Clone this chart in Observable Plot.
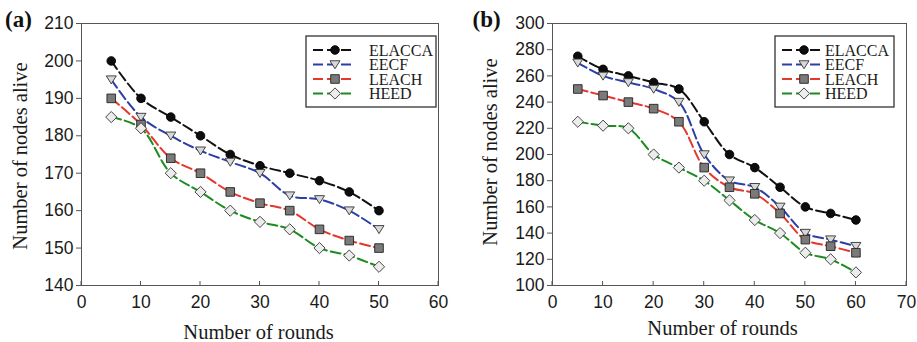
<!DOCTYPE html>
<html><head><meta charset="utf-8">
<script src="https://cdn.jsdelivr.net/npm/d3@7"></script>
<script src="https://cdn.jsdelivr.net/npm/@observablehq/plot@0.6"></script>
<style>
body{margin:0;background:#fff;}
#wrap{position:relative;width:917px;height:342px;overflow:hidden;background:#fff;}
.panel{position:absolute;top:0;}
</style></head><body><div id="wrap"></div>
<script>
// ---------- data ----------
const seriesNames = ["ELACCA", "EECF", "LEACH", "HEED"];

const roundsA = [5, 10, 15, 20, 25, 30, 35, 40, 45, 50];
const elaccaA = [200, 190, 185, 180, 175, 172, 170, 168, 165, 160];
const eecfA   = [195, 185, 180, 176, 173, 170, 164, 163, 160, 155];
const leachA  = [190, 183, 174, 170, 165, 162, 160, 155, 152, 150];
const heedA   = [185, 182, 170, 165, 160, 157, 155, 150, 148, 145];
const xTicksA = [0, 10, 20, 30, 40, 50, 60];
const yTicksA = [140, 150, 160, 170, 180, 190, 200, 210];

const roundsB = [5, 10, 15, 20, 25, 30, 35, 40, 45, 50, 55, 60];
const elaccaB = [275, 265, 260, 255, 250, 225, 200, 190, 175, 160, 155, 150];
const eecfB   = [270, 260, 255, 250, 240, 200, 180, 175, 160, 140, 135, 130];
const leachB  = [250, 245, 240, 235, 225, 190, 175, 170, 155, 135, 130, 125];
const heedB   = [225, 222, 220, 200, 190, 180, 165, 150, 140, 125, 120, 110];
const xTicksB = [0, 10, 20, 30, 40, 50, 60, 70];
const yTicksB = [100, 120, 140, 160, 180, 200, 220, 240, 260, 280, 300];

const xTitle = "Number of rounds";
const yTitle = "Number of nodes alive";

// ---------- styles ----------
const symCircle = {draw(ctx, size){const r=Math.sqrt(size/Math.PI); ctx.moveTo(r,0); ctx.arc(0,0,r,0,2*Math.PI);}};
const symTriDown = {draw(ctx, size){const r=Math.sqrt(size/Math.PI); ctx.moveTo(-r,-r*0.75); ctx.lineTo(r,-r*0.75); ctx.lineTo(0,r*0.85); ctx.closePath();}};
const symSquare = {draw(ctx, size){const r=Math.sqrt(size/Math.PI); ctx.rect(-r,-r,2*r,2*r);}};
const symDiamond = {draw(ctx, size){const r=Math.sqrt(size/Math.PI); ctx.moveTo(0,-r); ctx.lineTo(r,0); ctx.lineTo(0,r); ctx.lineTo(-r,0); ctx.closePath();}};

const style = {
  ELACCA: {line:"#111111", sym:symCircle, r:4.3, fill:"#0d0d0d", stroke:"#000"},
  EECF:   {line:"#2c3fa6", sym:symTriDown, r:5.0, fill:"#d8d8d8", stroke:"#333"},
  LEACH:  {line:"#e5372c", sym:symSquare, r:4.3, fill:"#7a7a7a", stroke:"#222"},
  HEED:   {line:"#1c8c1f", sym:symDiamond, r:5.6, fill:"#ececec", stroke:"#333"}
};

const sansFont = "Arial, Helvetica, 'DejaVu Sans', sans-serif";
const serif = "'Liberation Serif', 'Times New Roman', serif";

function makePanel(cfg) {
  const data = seriesNames.flatMap((s, k) => cfg.rounds.map((x, i) => ({s, x, y: cfg.values[k][i]})));
  const marks = [
    Plot.frame({stroke:"#555", strokeWidth:1}),
    Plot.axisY({ticks: cfg.yTicks, tickSize: 5, tickPadding: 3, label: null, stroke:"#555", fontSize: 17.5}),
    Plot.axisX({ticks: cfg.xTicks, tickSize: 0, tickPadding: 10, label: null, fontSize: 17.5})
  ];
  for (const s of seriesNames) {
    const st = style[s];
    const d = data.filter(e => e.s === s);
    marks.push(Plot.line(d, {x:"x", y:"y", stroke: st.line, strokeWidth: 2, strokeDasharray: "10,4", curve: "catmull-rom"}));
  }
  for (const s of seriesNames) {
    const st = style[s];
    const d = data.filter(e => e.s === s);
    marks.push(Plot.dot(d, {x:"x", y:"y", symbol: st.sym, r: st.r, fill: st.fill, stroke: st.stroke, strokeWidth: 0.9}));
  }
  const plot = Plot.plot({
    width: cfg.width, height: 342,
    marginLeft: cfg.ml, marginRight: cfg.mr, marginTop: 23, marginBottom: 57,
    x: {domain: [cfg.xTicks[0], cfg.xTicks[cfg.xTicks.length-1]]},
    y: {domain: [cfg.yTicks[0], cfg.yTicks[cfg.yTicks.length-1]]},
    style: {fontFamily: sansFont, fontSize: "17.5px", color: "#1a1a1a", background: "white", overflow: "visible"},
    marks
  });
  const svg = d3.select(plot);
  svg.selectAll("text").each(function() {
    this.setAttribute("font-size", "17.5");
    this.style.fontSize = "17.5px";
    this.style.fontFamily = sansFont;
    this.style.fontVariant = "normal";
  });
  const sx = plot.scale("x"), sy = plot.scale("y");
  const yBottom = sy.apply(cfg.yTicks[0]);
  // inward x ticks
  svg.append("g").selectAll("line").data(cfg.xTicks).join("line")
    .attr("x1", v => sx.apply(v)).attr("x2", v => sx.apply(v))
    .attr("y1", yBottom).attr("y2", yBottom - 4)
    .attr("stroke", "#555").attr("stroke-width", 1);
  // panel letter
  svg.append("text").attr("x", cfg.letterX).attr("y", 27).attr("text-anchor", "start")
    .attr("font-family", serif).attr("font-weight", "bold").attr("font-size", 23)
    .attr("fill", "#111").text(cfg.letter);
  // axis titles
  svg.append("text").attr("x", cfg.xtX).attr("y", cfg.xtY).attr("text-anchor", "middle")
    .attr("font-family", serif).attr("font-size", 20.5).attr("fill", "#1a1a1a").text(xTitle);
  svg.append("text").attr("transform", `translate(${cfg.ytX},${cfg.ytY}) rotate(-90)`).attr("text-anchor", "middle")
    .attr("font-family", serif).attr("font-size", 20.5).attr("fill", "#1a1a1a").text(yTitle);
  // legend
  const L = cfg.legend;
  const g = svg.append("g");
  g.append("rect").attr("x", L.x0).attr("y", 36).attr("width", L.x1 - L.x0).attr("height", 71)
    .attr("fill", "white").attr("stroke", "#333").attr("stroke-width", 1.3);
  seriesNames.forEach((s, i) => {
    const st = style[s];
    const yc = 50 + i * 14.5;
    g.append("line").attr("x1", L.l0).attr("x2", L.l1).attr("y1", yc).attr("y2", yc)
      .attr("stroke", st.line).attr("stroke-width", 2).attr("stroke-dasharray", "10,4");
    g.append("path").attr("transform", `translate(${L.m},${yc})`)
      .attr("d", d3.symbol(st.sym, Math.PI * st.r * st.r)())
      .attr("fill", st.fill).attr("stroke", st.stroke).attr("stroke-width", 0.9);
    g.append("text").attr("x", L.t).attr("y", yc + 5.5).attr("text-anchor", "start")
      .attr("font-family", serif).attr("font-size", 16).attr("fill", "#1a1a1a").text(s);
  });
  const div = document.createElement("div");
  div.className = "panel";
  div.style.left = cfg.left + "px";
  div.appendChild(plot);
  document.getElementById("wrap").appendChild(div);
}

makePanel({
  left: 0, width: 458, ml: 81, mr: 20,
  rounds: roundsA, values: [elaccaA, eecfA, leachA, heedA],
  xTicks: xTicksA, yTicks: yTicksA,
  letter: "(a)", letterX: 5,
  xtX: 258.5, xtY: 339, ytX: 27, ytY: 156,
  legend: {x0: 306, x1: 436, l0: 313, l1: 353, m: 335, t: 369}
});
makePanel({
  left: 458, width: 459, ml: 94, mr: 11,
  rounds: roundsB, values: [elaccaB, eecfB, leachB, heedB],
  xTicks: xTicksB, yTicks: yTicksB,
  letter: "(b)", letterX: 14.5,
  xtX: 264.5, xtY: 335, ytX: 39, ytY: 152,
  legend: {x0: 317, x1: 436, l0: 324, l1: 364, m: 346, t: 367}
});
</script></body></html>
